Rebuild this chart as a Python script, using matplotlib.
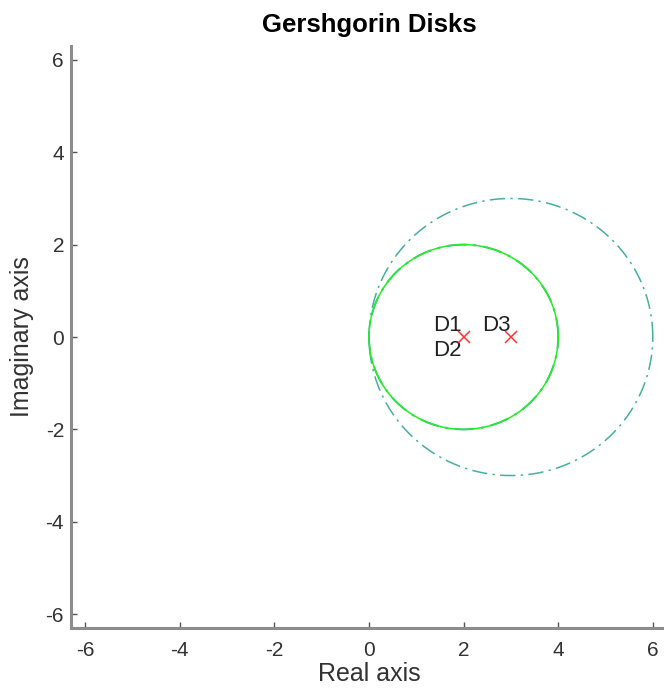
import numpy as np
import matplotlib.pyplot as plt

# disks: centres on the real axis and radii
centers = [2, 2, 3]
radii = [2, 2, 3]
names = ['D1', 'D2', 'D3']
eig_re = [2, 3]
eig_im = [0, 0]
ticks = [-6, -4, -2, 0, 2, 4, 6]

plt.rcParams['font.family'] = ['Liberation Sans', 'DejaVu Sans']
plt.rcParams['axes.unicode_minus'] = False

fig = plt.figure(figsize=(6.64, 6.94), dpi=100)
ax = fig.add_axes([71/664, 66/694, 596/664, 582/694])

t = np.linspace(0, 2*np.pi, 400)
dd = (0, (10, 3.5, 1.5, 3.5))
# D1 solid green on top of D2 (same disk), D3 dash-dot
styles = [dict(color='#22f022', ls='-', lw=1.1, zorder=3),
          dict(color='#45b09e', ls=dd, lw=1.4, zorder=2),
          dict(color='#45b09e', ls=dd, lw=1.1, zorder=2)]
for c, r, st in zip(centers, radii, styles):
    ax.plot(c + r*np.cos(t), r*np.sin(t), **st)

ax.plot(eig_re, eig_im, 'x', color='#ff3333', ms=9, mew=1.1, zorder=4)

# labels: D1 above, D2 below the shared centre
ax.text(centers[0] - 0.65, 0.25, names[0], fontsize=16, va='center', color='#222222')
ax.text(centers[1] - 0.65, -0.3, names[1], fontsize=16, va='center', color='#222222')
ax.text(centers[2] - 0.6, 0.25, names[2], fontsize=16, va='center', color='#222222')

ax.set_xlim(-6.3, 6.3)
ax.set_ylim(-6.3, 6.3)
ax.set_xticks(ticks)
ax.set_yticks(ticks)
for s in ['top', 'right']:
    ax.spines[s].set_visible(False)
for s in ['left', 'bottom']:
    ax.spines[s].set_color('#8c8c8c')
    ax.spines[s].set_linewidth(2.2)
ax.tick_params(direction='in', length=4, width=1, color='#555555',
               labelsize=15, labelcolor='#333333')
ax.tick_params(axis='x', pad=9)
ax.tick_params(axis='y', pad=5)

ax.set_title('Gershgorin Disks', fontsize=18.5, fontweight='bold', pad=10)
ax.set_xlabel('Real axis', fontsize=18, color='#333333', labelpad=2)
ax.set_ylabel('Imaginary axis', fontsize=18, color='#333333', labelpad=8)

fig.savefig('out.png', dpi=100)
